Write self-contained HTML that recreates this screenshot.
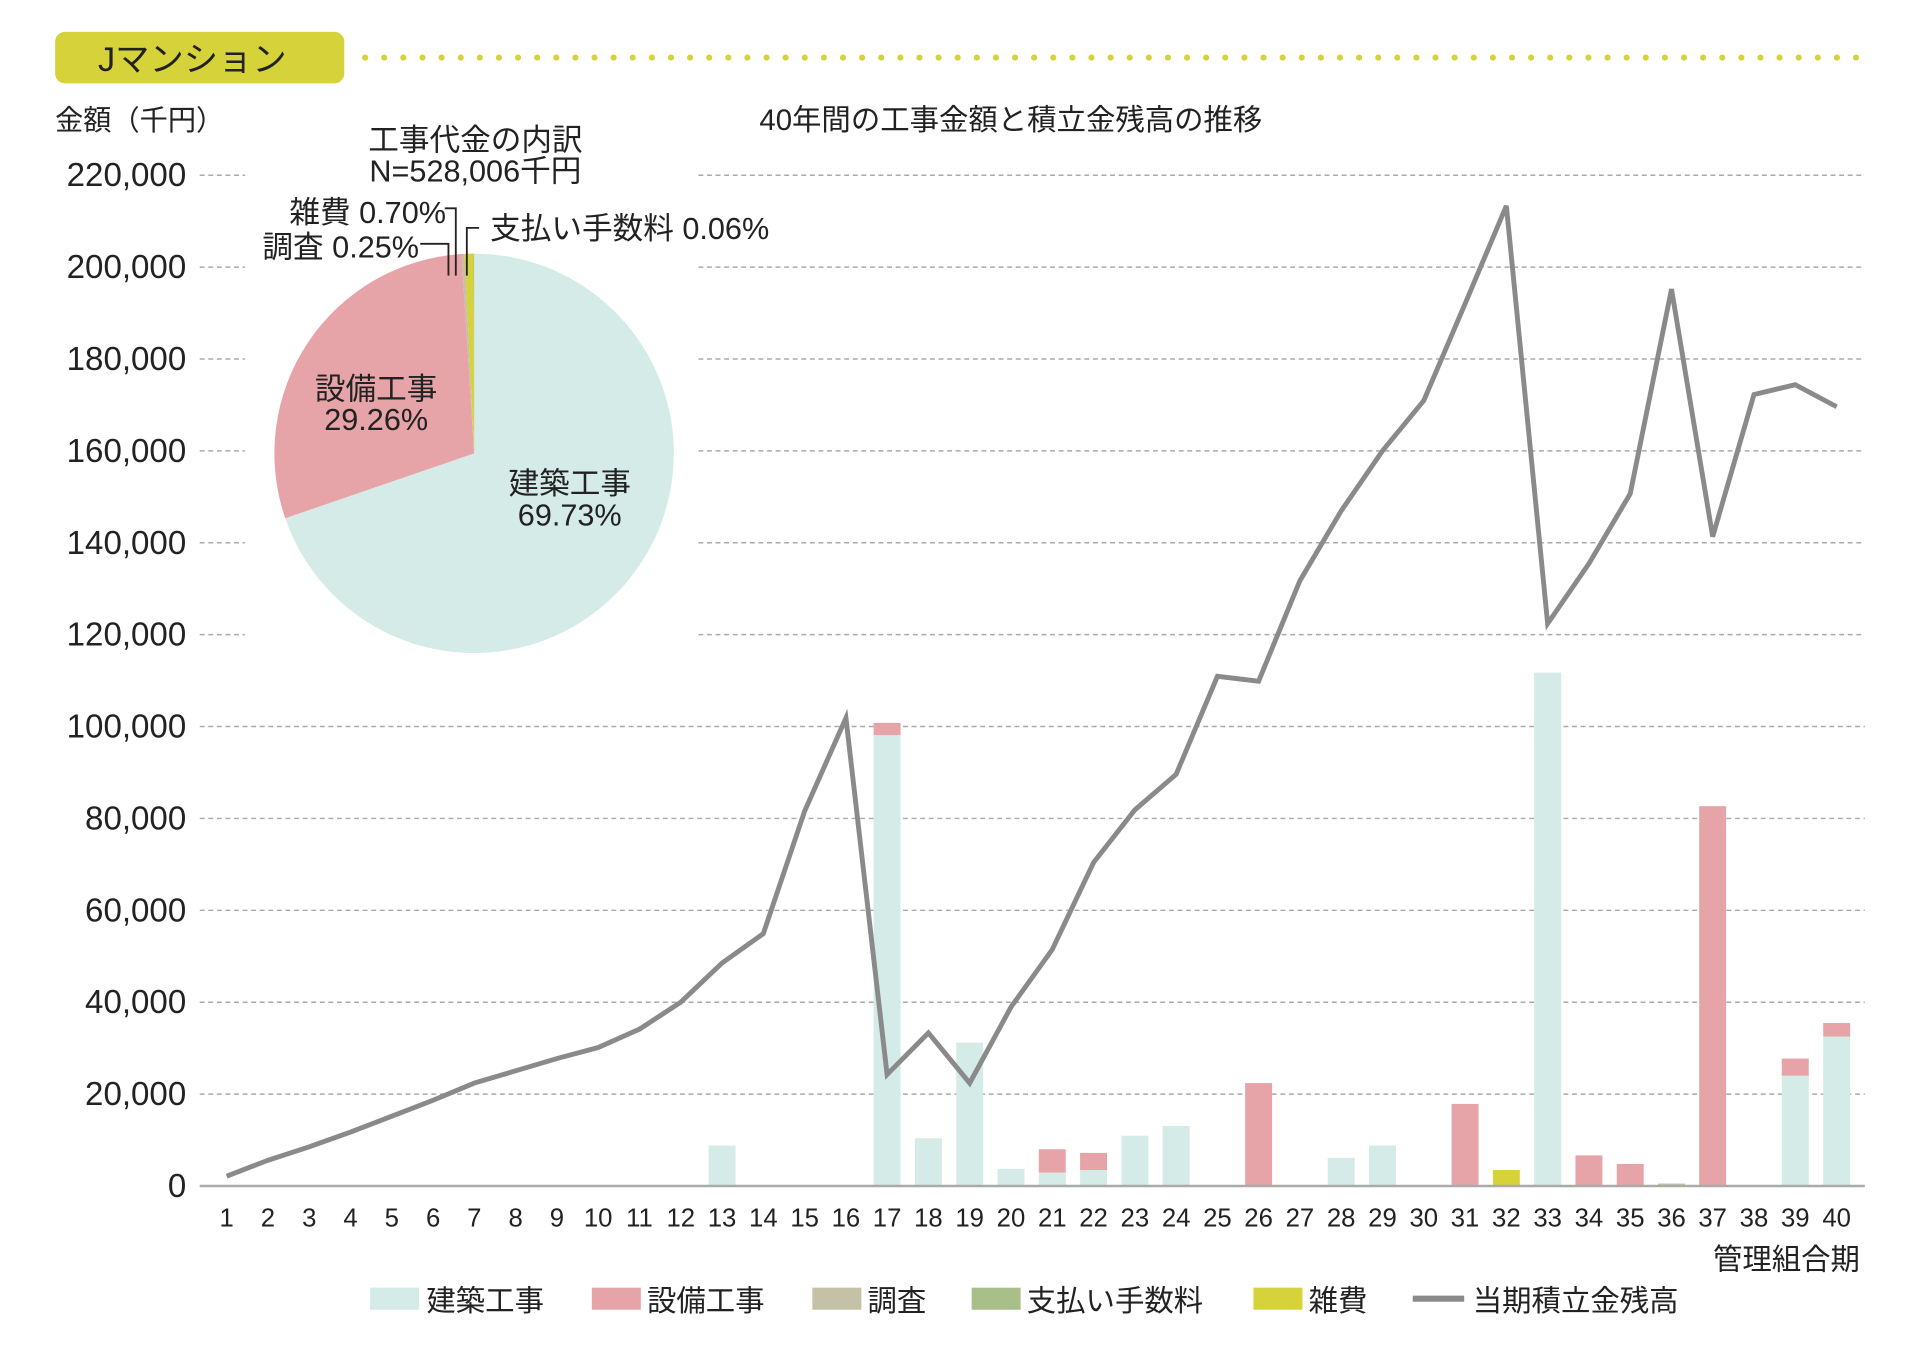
<!DOCTYPE html>
<html><head><meta charset="utf-8"><style>
html,body{margin:0;padding:0;background:#fff;}
svg{display:block;}
text{font-family:"Liberation Sans","Noto Sans CJK JP",sans-serif;fill:#222;}
</style></head><body>
<svg width="1920" height="1346" viewBox="0 0 1567 1098.6" preserveAspectRatio="none" xmlns="http://www.w3.org/2000/svg">
<rect x="45" y="26" width="236" height="42" rx="8" fill="#d6d23a"/>
<text x="80" y="58" font-size="28">Jマンション</text>
<line x1="298" y1="47" x2="1520" y2="47" stroke="#d6d23a" stroke-width="5" stroke-linecap="round" stroke-dasharray="0 15.6"/>
<text x="45" y="106" font-size="23">金額（千円）</text>
<text x="825" y="106" font-size="24" text-anchor="middle">40年間の工事金額と積立金残高の推移</text>
<g stroke="#aaa" stroke-width="1.2" stroke-dasharray="4 3">
<path d="M163 143H200M570 143H1522M163 218H200M570 218H1522M163 293H200M570 293H1522M163 368H200M570 368H1522M163 443H200M570 443H1522M163 518H200M570 518H1522M163 593H1522M163 668H1522M163 743H1522M163 818H1522M163 893H1522"/>
</g>
<g font-size="27" text-anchor="end">
<text x="152" y="152">220,000</text><text x="152" y="227">200,000</text><text x="152" y="302">180,000</text>
<text x="152" y="377">160,000</text><text x="152" y="452">140,000</text><text x="152" y="527">120,000</text>
<text x="152" y="602">100,000</text><text x="152" y="677">80,000</text><text x="152" y="752">60,000</text>
<text x="152" y="827">40,000</text><text x="152" y="902">20,000</text><text x="152" y="977">0</text>
</g>
<g>
<rect x="578.3" y="935" width="22" height="33" fill="#d5ebe7"/>
<rect x="713" y="600" width="22" height="368" fill="#d5ebe7"/><rect x="713" y="590" width="22" height="10" fill="#e6a4a8"/>
<rect x="746.7" y="929" width="22" height="39" fill="#d5ebe7"/>
<rect x="780.4" y="851" width="22" height="117" fill="#d5ebe7"/>
<rect x="814.1" y="954" width="22" height="14" fill="#d5ebe7"/>
<rect x="847.8" y="957" width="22" height="11" fill="#d5ebe7"/><rect x="847.8" y="938" width="22" height="19" fill="#e6a4a8"/>
<rect x="881.5" y="955" width="22" height="13" fill="#d5ebe7"/><rect x="881.5" y="941" width="22" height="14" fill="#e6a4a8"/>
<rect x="915.2" y="927" width="22" height="41" fill="#d5ebe7"/>
<rect x="948.9" y="919" width="22" height="49" fill="#d5ebe7"/>
<rect x="1016.2" y="884" width="22" height="84" fill="#e6a4a8"/>
<rect x="1083.6" y="945" width="22" height="23" fill="#d5ebe7"/>
<rect x="1117.3" y="935" width="22" height="33" fill="#d5ebe7"/>
<rect x="1184.7" y="901" width="22" height="67" fill="#e6a4a8"/>
<rect x="1218.4" y="955" width="22" height="13" fill="#d6d23a"/>
<rect x="1252.1" y="549" width="22" height="419" fill="#d5ebe7"/>
<rect x="1285.8" y="943" width="22" height="25" fill="#e6a4a8"/>
<rect x="1319.5" y="950" width="22" height="18" fill="#e6a4a8"/>
<rect x="1353.2" y="966" width="22" height="2" fill="#c5c1a6"/>
<rect x="1386.8" y="658" width="22" height="310" fill="#e6a4a8"/>
<rect x="1454.2" y="878" width="22" height="90" fill="#d5ebe7"/><rect x="1454.2" y="864" width="22" height="14" fill="#e6a4a8"/>
<rect x="1488" y="846" width="22" height="122" fill="#d5ebe7"/><rect x="1488" y="835" width="22" height="11" fill="#e6a4a8"/>
</g>
<line x1="163" y1="968" x2="1522" y2="968" stroke="#aaa" stroke-width="2"/>
<polyline fill="none" stroke="#8a8a8a" stroke-width="4" stroke-linejoin="miter" points="185,960 218.7,947 252.4,936 286.1,924 319.8,911 353.5,898 387.1,884 420.8,874 454.5,864 488.2,855 521.9,840 555.6,818 589.3,786 623,762 656.7,662 690.4,586 724,877 757.7,843 791.4,884 825.1,822 858.8,775 892.5,704 926.2,661 959.9,632 993.6,552 1027.2,556 1060.9,474 1094.6,417 1128.3,368 1162,327 1195.7,248 1229.4,168 1263.1,509 1296.8,460 1330.5,403 1364.2,236 1397.8,438 1431.5,322 1465.2,314 1499,332"/>
<g font-size="21" text-anchor="middle">
<text x="185" y="1001">1</text><text x="218.7" y="1001">2</text><text x="252.4" y="1001">3</text><text x="286.1" y="1001">4</text><text x="319.8" y="1001">5</text><text x="353.5" y="1001">6</text><text x="387.1" y="1001">7</text><text x="420.8" y="1001">8</text><text x="454.5" y="1001">9</text><text x="488.2" y="1001">10</text>
<text x="521.9" y="1001">11</text><text x="555.6" y="1001">12</text><text x="589.3" y="1001">13</text><text x="623" y="1001">14</text><text x="656.7" y="1001">15</text><text x="690.4" y="1001">16</text><text x="724" y="1001">17</text><text x="757.7" y="1001">18</text><text x="791.4" y="1001">19</text><text x="825.1" y="1001">20</text>
<text x="858.8" y="1001">21</text><text x="892.5" y="1001">22</text><text x="926.2" y="1001">23</text><text x="959.9" y="1001">24</text><text x="993.6" y="1001">25</text><text x="1027.2" y="1001">26</text><text x="1060.9" y="1001">27</text><text x="1094.6" y="1001">28</text><text x="1128.3" y="1001">29</text><text x="1162" y="1001">30</text>
<text x="1195.7" y="1001">31</text><text x="1229.4" y="1001">32</text><text x="1263.1" y="1001">33</text><text x="1296.8" y="1001">34</text><text x="1330.5" y="1001">35</text><text x="1364.2" y="1001">36</text><text x="1397.8" y="1001">37</text><text x="1431.5" y="1001">38</text><text x="1465.2" y="1001">39</text><text x="1499" y="1001">40</text>
</g>
<text x="1518" y="1036" font-size="24" text-anchor="end">管理組合期</text>
<g font-size="24">
<rect x="302" y="1051" width="40" height="18" fill="#d5ebe7"/><text x="348" y="1070">建築工事</text>
<rect x="483" y="1051" width="40" height="18" fill="#e6a4a8"/><text x="528" y="1070">設備工事</text>
<rect x="663" y="1051" width="40" height="18" fill="#c5c1a6"/><text x="708" y="1070">調査</text>
<rect x="793" y="1051" width="40" height="18" fill="#a9bf8a"/><text x="838" y="1070">支払い手数料</text>
<rect x="1023" y="1051" width="40" height="18" fill="#d6d23a"/><text x="1068" y="1070">雑費</text>
<line x1="1153" y1="1060" x2="1195" y2="1060" stroke="#8a8a8a" stroke-width="5"/><text x="1202" y="1070">当期積立金残高</text>
</g>
<path d="M387 370 L387 207 A163 163 0 1 1 232.8 423 Z" fill="#d5ebe7"/>
<path d="M387 370 L232.8 423 A163 163 0 0 1 376.65 207.3 Z" fill="#e6a4a8"/>
<path d="M387 370 L376.65 207.3 A163 163 0 0 1 379.2 207.2 Z" fill="#c5c1a6"/>
<path d="M387 370 L379.2 207.2 A163 163 0 0 1 386.4 207 Z" fill="#d6d23a"/>
<path d="M387 370 L386.4 207 A163 163 0 0 1 387 207 Z" fill="#a9bf8a"/>
<g fill="none" stroke="#222" stroke-width="1.5">
<path d="M343 199H366V225"/><path d="M363 170H372V225"/><path d="M381 225V186H391"/>
</g>
<g font-size="25" text-anchor="middle">
<text x="388" y="123">工事代金の内訳</text><text x="388" y="148">N=528,006千円</text>
<text x="307" y="326">設備工事</text><text x="307" y="351">29.26%</text>
<text x="465" y="403">建築工事</text><text x="465" y="429">69.73%</text>
</g>
<g font-size="25">
<text x="364" y="182" text-anchor="end">雑費 0.70%</text>
<text x="342" y="210" text-anchor="end">調査 0.25%</text>
<text x="400" y="195">支払い手数料 0.06%</text>
</g>
</svg>
</body></html>
